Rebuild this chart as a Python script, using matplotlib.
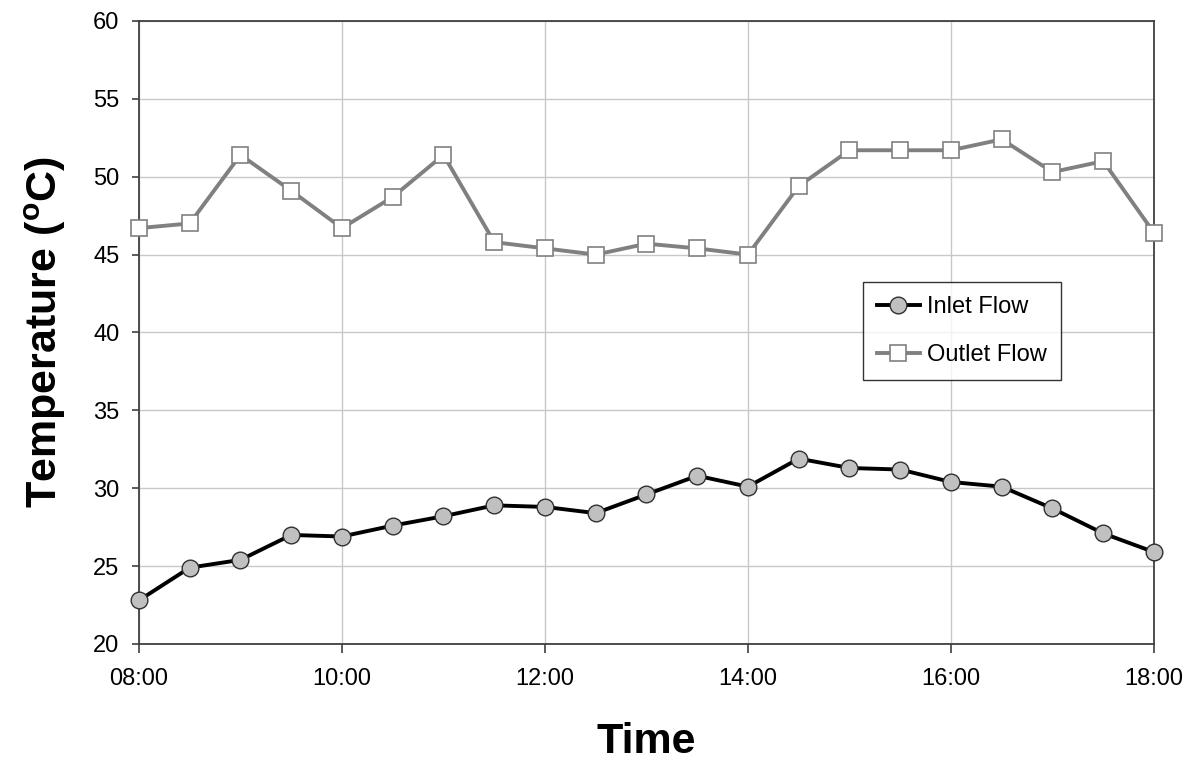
import matplotlib
matplotlib.use("Agg")
import matplotlib.pyplot as plt

plt.rcParams['font.family'] = ['Liberation Sans', 'DejaVu Sans']
plt.rcParams['mathtext.fontset'] = 'custom'
plt.rcParams['mathtext.rm'] = 'Liberation Sans:bold'
plt.rcParams['mathtext.bf'] = 'Liberation Sans:bold'

# time in hours, half-hour steps 08:00 .. 18:00
hours = [8.0, 8.5, 9.0, 9.5, 10.0, 10.5, 11.0, 11.5, 12.0, 12.5, 13.0,
         13.5, 14.0, 14.5, 15.0, 15.5, 16.0, 16.5, 17.0, 17.5, 18.0]
inlet = [22.8, 24.9, 25.4, 27.0, 26.9, 27.6, 28.2, 28.9, 28.8, 28.4, 29.6,
         30.8, 30.1, 31.9, 31.3, 31.2, 30.4, 30.1, 28.7, 27.1, 25.9]
outlet = [46.7, 47.0, 51.4, 49.1, 46.7, 48.7, 51.4, 45.8, 45.4, 45.0, 45.7,
          45.4, 45.0, 49.4, 51.7, 51.7, 51.7, 52.4, 50.3, 51.0, 46.4]
xticks = [8, 10, 12, 14, 16, 18]
xtick_labels = ['08:00', '10:00', '12:00', '14:00', '16:00', '18:00']
yticks = [20, 25, 30, 35, 40, 45, 50, 55, 60]

fig = plt.figure(figsize=(11.94, 7.63), dpi=100)
ax = fig.add_axes([0.1164, 0.156, 0.8501, 0.8165])

ax.plot(hours, inlet, color='black', lw=2.8, marker='o', markersize=12,
        markerfacecolor='#c0c0c0', markeredgecolor='#303030', markeredgewidth=1.0,
        label='Inlet Flow', zorder=3, clip_on=False)
ax.plot(hours, outlet, color='#808080', lw=2.8, marker='s', markersize=11.5,
        markerfacecolor='white', markeredgecolor='#808080', markeredgewidth=1.2,
        label='Outlet Flow', zorder=3, clip_on=False)

ax.set_xlim(8, 18)
ax.set_ylim(20, 60)
ax.set_xticks(xticks)
ax.set_xticklabels(xtick_labels)
ax.set_yticks(yticks)
ax.grid(True, color='#c8c8c8', lw=1.0)
ax.set_axisbelow(True)
for s in ax.spines.values():
    s.set_color('#404040')
    s.set_linewidth(1.3)
ax.tick_params(axis='both', labelsize=17, direction='out', width=1.2,
               color='#404040')
ax.tick_params(axis='y', length=5, pad=9)
ax.tick_params(axis='x', length=6.5, pad=11)

ax.set_xlabel('Time', fontsize=31, fontweight='bold', labelpad=23)
ax.set_ylabel(r'Temperature ($^{\mathbf{o}}$C)', fontsize=31,
              fontweight='bold', labelpad=18)

leg = ax.legend(loc='upper left', bbox_to_anchor=(0.7133, 0.581), fontsize=17,
                frameon=True, fancybox=False, edgecolor='black',
                borderpad=0.6, labelspacing=1.1, handlelength=1.8,
                handletextpad=0.3, borderaxespad=0)
leg.get_frame().set_linewidth(1.0)

fig.savefig('out.png', dpi=100)
